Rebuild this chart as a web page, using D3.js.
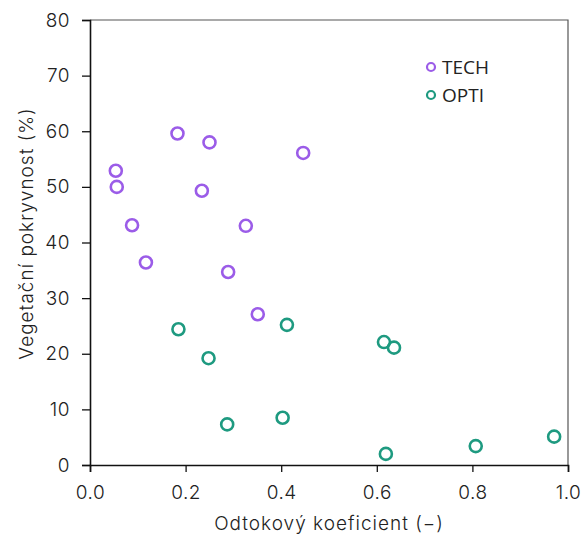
<!DOCTYPE html>
<html><head><meta charset="utf-8">
<script src="https://cdn.jsdelivr.net/npm/d3@7"></script>
<style>body{margin:0;background:#fff}svg{display:block}</style>
</head><body>
<script>
const techX = [0.054, 0.056, 0.088, 0.117, 0.183, 0.250, 0.234, 0.326, 0.289, 0.351, 0.446];
const techY = [52.9, 50.0, 43.1, 36.4, 59.6, 58.0, 49.3, 43.0, 34.7, 27.1, 56.1];
const optiX = [0.185, 0.248, 0.287, 0.403, 0.412, 0.615, 0.636, 0.619, 0.807, 0.971];
const optiY = [24.4, 19.2, 7.3, 8.5, 25.2, 22.1, 21.1, 2.0, 3.4, 5.1];
const xTicks = [0, 0.2, 0.4, 0.6, 0.8, 1.0];
const yTicks = [0, 10, 20, 30, 40, 50, 60, 70, 80];
const seriesNames = ["TECH", "OPTI"];
const colors = ["#9b5ce8", "#1e9a80"];

const W = 585, H = 536;
const m = {left: 90, right: 17, top: 20, bottom: 71};
const svg = d3.select("body").append("svg").attr("width", W).attr("height", H);
const x = d3.scaleLinear().domain([0, 1]).range([m.left, W - m.right]);
const y = d3.scaleLinear().domain([0, 80]).range([H - m.bottom, m.top]);
const axisFont = "Inter, 'DejaVu Sans', sans-serif";

// frame (top + right)
svg.append("path")
  .attr("d", `M${x(0)},${y(80)}H${x(1)}V${y(0)}`)
  .attr("fill", "none").attr("stroke", "#555").attr("stroke-width", 1.2);

const xAxis = svg.append("g").attr("transform", `translate(0,${y(0)})`)
  .call(d3.axisBottom(x).tickValues(xTicks).tickFormat(d3.format(".1f")).tickSize(7).tickPadding(14));
const yAxis = svg.append("g").attr("transform", `translate(${x(0)},0)`)
  .call(d3.axisLeft(y).tickValues(yTicks).tickSize(8).tickPadding(12));
[xAxis, yAxis].forEach(g => {
  g.select(".domain").attr("stroke", "#111").attr("stroke-width", 1.6);
  g.selectAll(".tick line").attr("stroke", "#111").attr("stroke-width", 1.3);
  g.selectAll(".tick text").attr("fill", "#222").style("font-family", axisFont)
    .style("font-size", "19px").style("font-weight", 300).style("letter-spacing", "0.5px");
});

svg.append("text").attr("x", (x(0) + x(1)) / 2).attr("y", 530)
  .attr("text-anchor", "middle").attr("fill", "#222")
  .style("font-family", axisFont).style("font-size", "19px").style("font-weight", 300)
  .style("letter-spacing", "1px")
  .text("Odtokový koeficient (−)");
svg.append("text").attr("transform", `translate(33,${(y(0) + y(80)) / 2 - 9}) rotate(-90)`)
  .attr("text-anchor", "middle").attr("fill", "#222")
  .style("font-family", axisFont).style("font-size", "19px").style("font-weight", 300)
  .style("letter-spacing", "1px")
  .text("Vegetační pokryvnost (%)");

const series = [
  {name: seriesNames[0], xs: techX, ys: techY, color: colors[0]},
  {name: seriesNames[1], xs: optiX, ys: optiY, color: colors[1]}
];
series.forEach(s => {
  svg.append("g").selectAll("circle").data(s.xs.map((v, i) => [v, s.ys[i]])).join("circle")
    .attr("cx", d => x(d[0])).attr("cy", d => y(d[1])).attr("r", 6)
    .attr("fill", "none").attr("stroke", s.color).attr("stroke-width", 2.6);
});

const leg = svg.append("g").attr("transform", "translate(431,67)");
series.forEach((s, i) => {
  const g = leg.append("g").attr("transform", `translate(0,${i * 28})`);
  g.append("circle").attr("r", 4).attr("fill", "none").attr("stroke", s.color).attr("stroke-width", 2.2);
  g.append("text").attr("x", 11).attr("y", 0).attr("dy", "0.36em")
    .attr("fill", "#222").style("font-family", "'Open Sans', sans-serif").style("font-size", "19px")
    .text(s.name);
});
</script>
</body></html>
